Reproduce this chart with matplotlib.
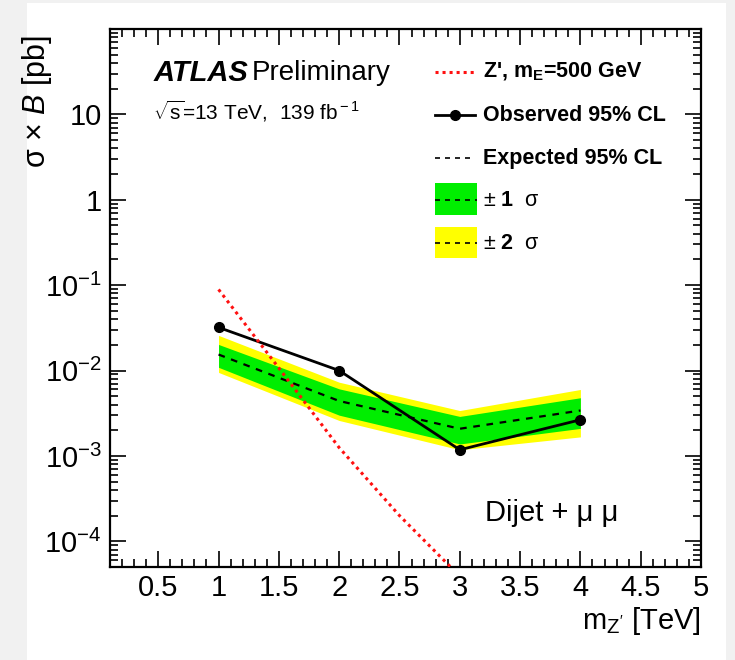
import math
import matplotlib
matplotlib.use("Agg")
import matplotlib.pyplot as plt
from matplotlib.patches import Rectangle
from matplotlib.ticker import MultipleLocator, LogLocator, FuncFormatter, NullFormatter

plt.rcParams['font.family'] = ['Liberation Sans', 'DejaVu Sans']
plt.rcParams['mathtext.fontset'] = 'custom'
plt.rcParams['mathtext.rm'] = 'Liberation Sans'
plt.rcParams['mathtext.it'] = 'Liberation Sans:italic'
plt.rcParams['mathtext.bf'] = 'Liberation Sans:bold'

# limits (pb), Z' mass in TeV
mass = [1, 2, 3, 4]
observed = [0.032, 0.010, 0.00118, 0.00265]
expected = [0.0154, 0.0044, 0.00208, 0.0034]
green_hi = [0.0202, 0.0061, 0.0029, 0.0048]
green_lo = [0.0109, 0.0030, 0.00138, 0.0021]
yellow_hi = [0.0258, 0.0073, 0.0034, 0.0060]
yellow_lo = [0.0095, 0.0026, 0.00118, 0.00167]

# theory curve Z', m_E = 500 GeV
zp_mass = [1.0, 1.5, 2.0, 2.5, 3.0]
zp_xsec = [0.089, 0.0107, 0.00125, 0.0002, 0.000039]

fig = plt.figure(figsize=(7.35, 6.6), dpi=100, facecolor='#f1f1f1')
# white card behind the plot
fig.patches.append(Rectangle((27/735, 0), 699/735, 657/660, transform=fig.transFigure,
                             facecolor='white', edgecolor='none', zorder=-5))

ax = fig.add_axes([110/735, 1-567/660, 591/735, 538/660])
ax.set_facecolor('none')

ax.fill_between(mass, yellow_lo, yellow_hi, color='#ffff00', lw=0, zorder=1)
ax.fill_between(mass, green_lo, green_hi, color='#00ee00', lw=0, zorder=2)
ax.plot(mass, expected, color='black', ls=(0, (3, 3)), lw=1.6, zorder=3)
ax.plot(mass, observed, color='black', lw=2.0, marker='o', ms=7, zorder=4)
ax.plot(zp_mass, zp_xsec, color='#ff1010', ls=(0, (1, 1.3)), lw=2.2, zorder=5)

ax.set_yscale('log')
ax.set_xlim(0.1, 5)
ax.set_ylim(5e-5, 100)

ax.xaxis.set_major_locator(MultipleLocator(0.5))
ax.xaxis.set_minor_locator(MultipleLocator(0.1))
ax.xaxis.set_major_formatter(FuncFormatter(lambda v, p: '%g' % v if 0.3 < v < 5.1 else ''))
ax.yaxis.set_major_locator(LogLocator(base=10, numticks=20))
ax.yaxis.set_minor_locator(LogLocator(base=10, subs=range(2, 10), numticks=20))
ax.yaxis.set_minor_formatter(NullFormatter())


def ylab(v, p):
    n = int(round(math.log10(v)))
    if n > 1 or n < -4:
        return ''
    if n == 1:
        return '10'
    if n == 0:
        return '1'
    return r'$10^{%d}$' % n


ax.yaxis.set_major_formatter(FuncFormatter(ylab))

ax.tick_params(which='both', direction='in', top=True, right=True, width=1.2,
               labelsize=21, colors='black')
ax.tick_params(which='major', length=11.5)
ax.tick_params(which='minor', length=5.8)
ax.tick_params(axis='x', pad=5)
ax.tick_params(axis='y', pad=6)
for s in ax.spines.values():
    s.set_linewidth(1.6)

ax.set_xlabel(r"m$_{\rm Z'}$ [TeV]", fontsize=21, loc='right')
ax.xaxis.set_label_coords(1.0, -0.07)
ax.set_ylabel(r'σ × $B$ [pb]', fontsize=22, loc='top')
ax.yaxis.set_label_coords(-0.095, 0.99)

# ATLAS label
ax.text(0.073, 0.918, 'ATLAS', transform=ax.transAxes, fontsize=21,
        fontweight='bold', style='italic', va='center')
ax.text(0.240, 0.918, 'Preliminary', transform=ax.transAxes, fontsize=20, va='center')
ax.text(0.073, 0.846, r'$\sqrt{\rm s}$=13 TeV,  139 fb$^{\rm -1}$', transform=ax.transAxes,
        fontsize=15, va='center')
ax.text(0.635, 0.100, 'Dijet + μ μ', transform=ax.transAxes, fontsize=21, va='center')

# legend, drawn by hand to mimic the ROOT layout
lx0, lx1, tx = 0.550, 0.618, 0.631
rows = [0.920, 0.840, 0.760, 0.682, 0.602]
ax.plot([lx0, lx1], [rows[0]] * 2, transform=ax.transAxes, color='#ff1010',
        ls=(0, (1, 1.3)), lw=2.2)
ax.plot([lx0, lx1], [rows[1]] * 2, transform=ax.transAxes, color='black', lw=2.0)
ax.plot([(lx0 + lx1) / 2], [rows[1]], transform=ax.transAxes, color='black',
        marker='o', ms=7)
ax.plot([lx0, lx1], [rows[2]] * 2, transform=ax.transAxes, color='black',
        ls=(0, (3, 3)), lw=1.2)
ax.add_patch(Rectangle((lx0, 0.654), 0.071, 0.060, transform=ax.transAxes,
                       facecolor='#00ee00', edgecolor='none'))
ax.add_patch(Rectangle((lx0, 0.574), 0.071, 0.058, transform=ax.transAxes,
                       facecolor='#ffff00', edgecolor='none'))
ax.plot([lx0, lx0 + 0.071], [rows[3]] * 2, transform=ax.transAxes, color='black',
        ls=(0, (3, 3)), lw=1.2)
ax.plot([lx0, lx0 + 0.071], [rows[4]] * 2, transform=ax.transAxes, color='black',
        ls=(0, (3, 3)), lw=1.2)

labels = [r"Z', m$_{\mathbf{E}}$=500 GeV", 'Observed 95% CL', 'Expected 95% CL',
          '± $\\mathbf{1}$  σ', '± $\\mathbf{2}$  σ']
for y, lab in zip(rows, labels):
    weight = 'bold' if y > 0.7 else 'normal'
    ax.text(tx, y, lab, transform=ax.transAxes, fontsize=15.5, fontweight=weight,
            va='center')

fig.savefig('out.png', dpi=100, facecolor=fig.get_facecolor())
